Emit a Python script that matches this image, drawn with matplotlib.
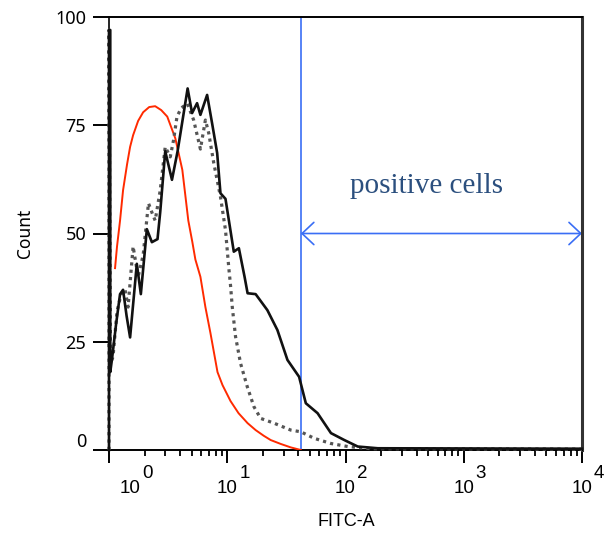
import matplotlib
matplotlib.use("Agg")
import matplotlib.pyplot as plt
import matplotlib.transforms as mtrans

# ---------------- data ----------------
red_x = [1.125, 1.169, 1.240, 1.315, 1.422, 1.508, 1.599, 1.763, 1.944, 2.187, 2.457, 2.764,
         3.109, 3.636, 4.169, 4.684, 5.07, 5.375, 5.93, 6.535, 7.21, 8.27, 9.114, 10.66,
         12.46, 14.86, 17.38, 20.32, 23.29, 28.33, 34.45, 41.9]
red_y = [42, 47, 53, 60, 66, 70, 72.7, 76, 78, 79.2, 79.4, 78.5,
         77, 72, 64.7, 53, 48, 44, 40, 33, 27, 18, 15, 11.3,
         8.5, 6.2, 4.6, 3.3, 2.3, 1.4, 0.6, 0]

solid_x = [1.0, 1.0, 1.025, 1.025, 1.060, 1.147, 1.240, 1.315, 1.408, 1.508, 1.719, 1.859, 2.090,
           2.305, 2.572, 2.712, 2.989, 3.408, 3.802, 4.623, 5.040, 5.556, 5.93, 6.756,
           7.450, 8.215, 8.761, 9.663, 11.36, 12.54, 14.01, 14.86, 17.38, 21.84, 26.56,
           32.29, 40.52, 46.18, 58.06, 75.34, 97.7, 126.9, 187.7, 10000]
solid_y = [0, 97, 97, 18, 21, 29, 36, 37, 31, 26, 43, 36, 51,
           48, 48.7, 55, 69, 62.4, 69, 83.5, 77.8, 80.1, 77.4, 82,
           75.4, 68.6, 59.3, 58, 45.8, 46.6, 40, 36.2, 36, 32.3, 27.7,
           20.8, 16.9, 10.8, 8.5, 3.9, 2.3, 0.8, 0.4, 0.3]

dot_x = [1.0, 1.0, 1.03, 1.081, 1.169, 1.265, 1.367, 1.450, 1.599, 1.763, 1.944, 2.157,
         2.318, 2.457, 2.712, 2.989, 3.295, 3.517, 3.758, 4.088, 4.597, 5.199, 5.93,
         6.535, 6.970, 7.688, 8.761, 9.663, 10.31, 10.66, 11.02, 11.75, 12.96, 14.77,
         16.81, 19.16, 24.85, 34.45, 41.9, 54.33, 75.34, 104.4, 164.7, 10000]
dot_y = [0, 97, 20, 21.5, 32, 36, 37, 33, 47, 40, 45, 57,
         54.7, 53, 60, 70, 67.7, 71.6, 77, 79, 80, 76.2, 69.5,
         76.2, 73.2, 66.3, 58.5, 50.8, 42, 38, 33.1, 26.2, 20, 14.6,
         10, 7.3, 6.2, 4.6, 4.2, 2.7, 1.5, 0.8, 0.3, 0.2]

gate_x = 41.9
arrow_y = 50
x_decades = [0, 1, 2, 3, 4]
y_ticks = [0, 25, 50, 75, 100]
gate_label = "positive cells"
x_label = "FITC-A"
y_label = "Count"

# ---------------- figure ----------------
W, H = 605, 543
fig = plt.figure(figsize=(W / 100, H / 100), dpi=100)
ax = fig.add_axes([109 / W, 1 - 450 / H, (582 - 109) / W, (450 - 17) / H])

ax.plot(red_x, red_y, color="#ff2a00", lw=1.4, zorder=3)
ax.plot(dot_x, dot_y, color="#555555", lw=2.3, linestyle=(0, (1, 1.3)),
        dash_capstyle="butt", zorder=4, clip_on=False)
ax.plot(solid_x, solid_y, color="#111111", lw=1.9, zorder=5, clip_on=False)

ax.axvline(gate_x, color="#3a6ef5", lw=1.2, zorder=2)
ax.annotate("", xy=(10 ** x_decades[-1], arrow_y), xytext=(gate_x, arrow_y),
            arrowprops=dict(arrowstyle="<->,head_length=0.85,head_width=0.8",
                            color="#3a6ef5", lw=1.2, shrinkA=0, shrinkB=0),
            zorder=2)
ax.text(10 ** 2.688, 61, gate_label, family="Liberation Serif", fontsize=21,
        color="#2b4f7e", ha="center", va="center")

ax.set_xscale("log")
ax.set_xlim(10 ** x_decades[0], 10 ** x_decades[-1])
ax.set_ylim(0, 100)
ax.set_xticks([10 ** d for d in x_decades])
ax.set_yticks(y_ticks)
ax.set_yticklabels([str(v) for v in y_ticks], family="Noto Sans", fontsize=13)
ax.tick_params(axis="x", which="major", length=9.4, width=1.4, direction="out",
               labelbottom=False)
ax.tick_params(axis="x", which="minor", length=4.3, width=1.3, direction="out")
ax.tick_params(axis="y", which="major", length=11.5, width=1.4, direction="out", pad=5)
ax.minorticks_on()
ax.yaxis.set_minor_locator(matplotlib.ticker.NullLocator())

# shift the "0" label upward slightly as in the reference
for lab in ax.get_yticklabels():
    if lab.get_text() == "0":
        lab.set_transform(lab.get_transform() + mtrans.ScaledTranslation(0, 7 / 72, fig.dpi_scale_trans))

# x tick labels: "10" with full-size raised exponent
for d in x_decades:
    dx = 21 if d == 0 else 0
    ax.annotate("10", xy=(10 ** d, 0), xycoords=("data", "axes fraction"),
                xytext=(dx, -43), textcoords="offset pixels", ha="center",
                va="baseline", family="Liberation Sans", fontsize=13.5)
    ax.annotate(str(d), xy=(10 ** d, 0), xycoords=("data", "axes fraction"),
                xytext=(dx + 12, -28), textcoords="offset pixels", ha="left",
                va="baseline", family="Liberation Sans", fontsize=13.5)

fig.text(346 / W, 1 - 522 / H, x_label, family="Liberation Sans", fontsize=13,
         ha="center", va="center")
fig.text(25 / W, 1 - 233 / H, y_label, family="Noto Sans", fontsize=12.5,
         ha="center", va="center", rotation=90)

ax.spines["top"].set_linewidth(1.4)
ax.spines["bottom"].set_linewidth(1.4)
ax.spines["left"].set_linewidth(1.2)
ax.spines["right"].set_linewidth(2.2)
ax.spines["right"].set_color("#333333")

fig.savefig("out.png", dpi=100)
